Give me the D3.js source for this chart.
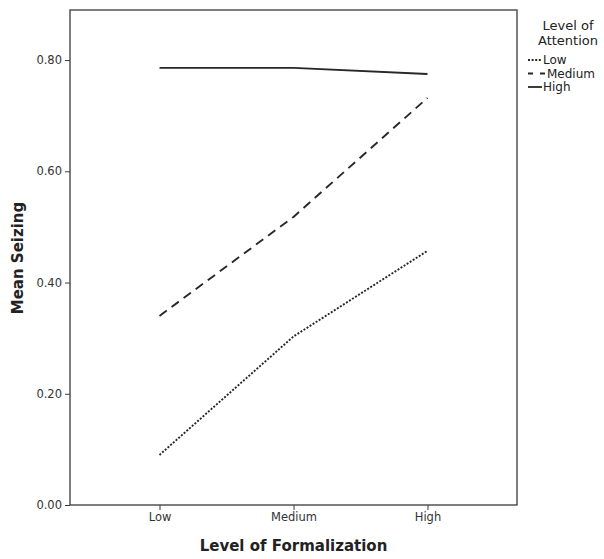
<!DOCTYPE html>
<html>
<head>
<meta charset="utf-8">
<script src="https://cdn.jsdelivr.net/npm/d3@7"></script>
<style>
  body { margin: 0; background: #fff; }
  text { font-family: "DejaVu Sans", sans-serif; fill: #222; }
</style>
</head>
<body>
<svg width="604" height="559"></svg>
<script>
// categories and series
const formalization = ["Low", "Medium", "High"];
const seriesNames = ["Low", "Medium", "High"];
const lowValues = [0.09, 0.303, 0.457];
const mediumValues = [0.34, 0.518, 0.732];
const highValues = [0.786, 0.786, 0.775];
const yTicks = [0.0, 0.2, 0.4, 0.6, 0.8];

const series = [
    { name: seriesNames[0], values: lowValues, dash: "2,1.6" },
    { name: seriesNames[1], values: mediumValues, dash: "9,6" },
    { name: seriesNames[2], values: highValues, dash: null }
];

const margin = { top: 10, left: 70 },
      width = 447,
      height = 495;

const svg = d3.select("svg")
  .append("g")
    .attr("transform", `translate(${margin.left},${margin.top})`);

// scales
const x = d3.scalePoint()
    .domain(formalization)
    .range([0, width])
    .padding(0.668);

const y = d3.scaleLinear()
    .domain([0, 0.89])
    .range([height, 0]);

// frame
svg.append("rect")
    .attr("width", width)
    .attr("height", height)
    .attr("fill", "none")
    .attr("stroke", "#3d3838")
    .attr("stroke-width", 1.3);

// Y axis
const yAxis = svg.append("g")
    .call(d3.axisLeft(y).tickValues(yTicks).tickFormat(d3.format(".2f")).tickSize(5).tickPadding(3));
yAxis.select(".domain").remove();
yAxis.selectAll("line").attr("stroke", "#3d3838");
yAxis.selectAll("text").style("font-size", "11.5px").style("fill", "#333");

// X axis
const xAxis = svg.append("g")
    .attr("transform", `translate(0,${height})`)
    .call(d3.axisBottom(x).tickSize(5).tickPadding(3));
xAxis.select(".domain").remove();
xAxis.selectAll("line").attr("stroke", "#3d3838");
xAxis.selectAll("text").style("font-size", "11.5px").style("fill", "#333");

// lines
const line = d3.line()
    .x((d, i) => x(formalization[i]))
    .y(d => y(d));

svg.selectAll(".series")
    .data(series)
  .enter()
  .append("path")
    .attr("d", d => line(d.values))
    .attr("fill", "none")
    .attr("stroke", "#2a2626")
    .attr("stroke-width", 1.9)
    .attr("stroke-dasharray", d => d.dash);

// axis titles
svg.append("text")
    .attr("x", width / 2)
    .attr("y", height + 46)
    .attr("text-anchor", "middle")
    .style("font-size", "15px")
    .style("font-weight", "bold")
    .text("Level of Formalization");

svg.append("text")
    .attr("transform", "rotate(-90)")
    .attr("x", -248)
    .attr("y", -47)
    .attr("text-anchor", "middle")
    .style("font-size", "15px")
    .style("font-weight", "bold")
    .text("Mean Seizing");

// legend
const legend = d3.select("svg").append("g")
    .attr("transform", "translate(528,0)");

legend.append("text")
    .attr("x", 40).attr("y", 30)
    .attr("text-anchor", "middle")
    .style("font-size", "13px")
    .text("Level of");
legend.append("text")
    .attr("x", 40).attr("y", 45)
    .attr("text-anchor", "middle")
    .style("font-size", "13px")
    .text("Attention");

const items = legend.selectAll(".item")
    .data(series)
  .enter()
  .append("g")
    .attr("transform", (d, i) => `translate(0,${60 + i * 13.5})`);

items.append("line")
    .attr("x1", 0).attr("x2", d => d.name === "Medium" ? 18 : 14)
    .attr("stroke", "#2a2626")
    .attr("stroke-width", 1.8)
    .attr("stroke-dasharray", d => d.name === "Medium" ? "5,7" : d.dash);

items.append("text")
    .attr("x", d => d.name === "Medium" ? 19 : 15)
    .attr("y", 4)
    .style("font-size", "12px")
    .text(d => d.name);
</script>
</body>
</html>
